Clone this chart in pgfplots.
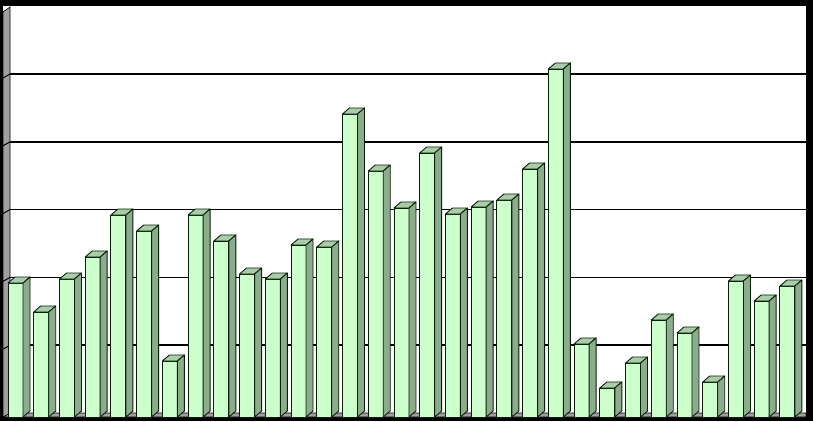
\documentclass[border=0pt]{standalone}
\usepackage{pgfplots}
\pgfplotsset{compat=1.18}
\usepackage{pgfplotstable}
\usetikzlibrary{backgrounds}
\definecolor{frontc}{HTML}{CCFFCC}
\definecolor{sidec}{HTML}{8CAD8C}
\definecolor{topc}{HTML}{A8CDA8}
\definecolor{edgec}{HTML}{0A1F0A}
\definecolor{wallc}{HTML}{A0A0A0}
\pgfplotstableread{
i h
1 1.976
2 1.549
3 2.035
4 2.360
5 2.979
6 2.743
7 0.826
8 2.979
9 2.596
10 2.109
11 2.035
12 2.537
13 2.507
14 4.469
15 3.628
16 3.083
17 3.894
18 2.994
19 3.097
20 3.200
21 3.658
22 5.133
23 1.077
24 0.428
25 0.796
26 1.431
27 1.239
28 0.516
29 2.006
30 1.711
31 1.932
}\bars
\begin{document}
\begin{tikzpicture}
\begin{axis}[name=ax, anchor=south west, at={(0pt,0pt)},
  x=25.73pt, y=67.8pt, xmin=0.786, xmax=31.72, ymin=0, ymax=6.0472,
  clip=false, axis line style={draw=none}, xtick=\empty,
  ytick={1.059,2.059,3.059,4.059,5.059}, yticklabels={}, major tick length=0pt,
  ymajorgrids, grid style={black, line width=1.6pt}]
\addplot[ybar, bar width=15pt, fill=frontc, draw=edgec, line width=0.9pt] table[x=i,y=h]{\bars};
\addplot[scatter, only marks, mark=*, mark size=0pt, mark options={draw=none,fill=none},
  visualization depends on={\thisrow{h} \as \myh},
  scatter/@pre marker code/.code={%
    \pgfkeys{/pgf/fpu=false}%
    \pgfmathsetmacro\H{\myh*67.8}%
    \pgfmathsetmacro\Hb{6-\H}%
    \begin{scope}
    \filldraw[fill=topc, draw=edgec, line width=0.9pt, line join=round]
      (-7.5pt,0pt) -- (7.5pt,0pt) -- (14.5pt,6pt) -- (-0.5pt,6pt) -- cycle;
    \filldraw[fill=sidec, draw=edgec, line width=0.9pt, line join=round]
      (7.5pt,0pt) -- (14.5pt,6pt) -- (14.5pt,\Hb pt) -- (7.5pt,-\H pt) -- cycle;
    \end{scope}
  },
  scatter/@post marker code/.code={}
] table[x=i,y=h]{\bars};
\end{axis}
\begin{scope}[on background layer]
\fill[black] (-10pt,-4pt) rectangle (803pt,417pt);
\fill[white] (-7pt,0pt) rectangle (796pt,411pt);
\filldraw[fill=wallc, draw=black, line width=0.6pt] (-7pt,0pt) -- (0pt,4pt) -- (796pt,4pt) -- (796pt,0pt) -- cycle;
\filldraw[fill=wallc, draw=black, line width=0.6pt] (-7pt,0pt) -- (-7pt,405pt) -- (0pt,410pt) -- (0pt,4pt) -- cycle;
\draw[black, line width=1pt] (-7pt,67.8pt) -- (0pt,71.8pt);
\draw[black, line width=1pt] (-7pt,135.6pt) -- (0pt,139.6pt);
\draw[black, line width=1pt] (-7pt,203.4pt) -- (0pt,207.4pt);
\draw[black, line width=1pt] (-7pt,271.2pt) -- (0pt,275.2pt);
\draw[black, line width=1pt] (-7pt,339pt) -- (0pt,343pt);
\end{scope}
\end{tikzpicture}
\end{document}
